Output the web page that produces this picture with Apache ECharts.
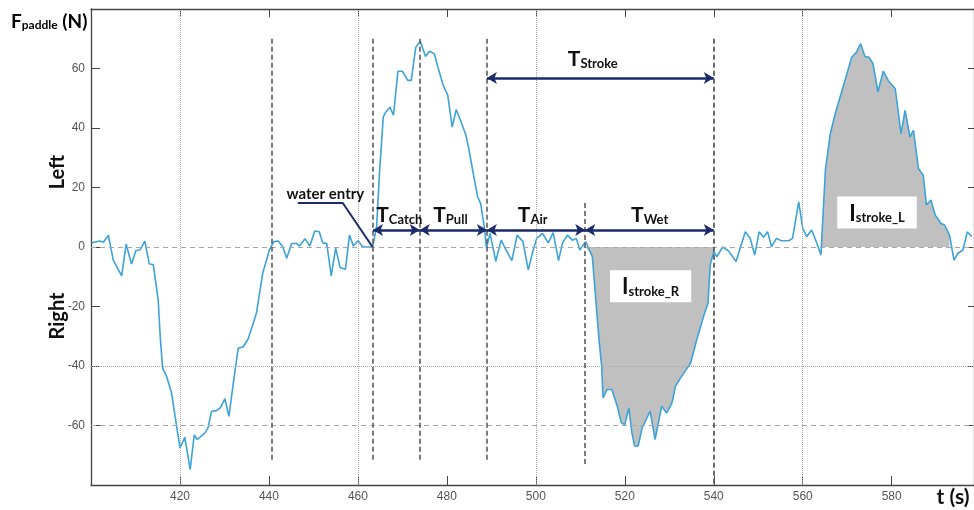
<!DOCTYPE html>
<html>
<head>
<meta charset="utf-8">
<script src="https://cdn.jsdelivr.net/npm/echarts@6/dist/echarts.min.js"></script>
<style>html,body{margin:0;padding:0;background:#fff}#c{width:974px;height:510px}</style>
</head>
<body>
<div id="c"></div>
<script>
// ---- data ----
const time = [400.2,402.0,402.8,403.9,405.0,406.9,407.9,409.1,410.1,411.0,412.1,413.1,414.0,415.1,415.6,416.1,417.0,418.1,420.0,421.1,422.3,423.2,423.9,425.6,426.3,427.1,428.2,429.1,430.1,431.0,432.1,433.1,434.2,435.3,437.2,438.6,440.1,441.1,442.1,443.1,444.0,445.1,446.2,446.9,448.1,449.2,450.3,451.3,452.1,453.0,454.0,455.0,456.0,457.2,458.1,459.0,460.0,461.1,462.2,463.3,464.2,464.9,465.7,466.3,467.2,468.0,469.0,470.0,471.2,472.0,473.0,474.0,475.2,476.1,477.2,478.2,479.2,480.2,481.2,482.1,483.2,484.3,485.0,485.8,486.9,487.6,488.4,488.9,489.7,491.0,492.2,493.3,494.6,495.8,497.1,498.3,499.3,500.2,501.5,502.8,503.9,505.1,506.0,507.1,508.2,509.1,509.9,511.2,512.7,514.2,514.8,515.1,516.0,517.1,518.3,519.2,520.0,520.9,521.6,522.2,523.0,523.9,525.0,525.7,526.8,528.3,529.4,530.6,531.4,532.3,533.3,534.8,536.2,537.7,538.7,539.2,540.0,540.7,542.0,543.3,545.0,547.1,548.2,549.2,550.2,551.2,552.1,553.0,554.1,555.2,556.8,557.7,559.1,560.0,560.9,562.0,563.2,564.1,564.3,565.1,566.2,567.3,568.4,569.5,571.0,572.1,573.0,574.0,574.9,575.8,576.9,578.1,579.2,580.8,582.1,583.0,584.1,584.9,586.0,587.1,587.8,588.8,589.8,591.1,591.9,593.0,594.0,594.9,596.0,597.0,598.0];
const force = [1.4,2,1.6,4,-4.4,-9.7,1,-5.7,-1.2,-1,2,-5.7,-5.9,-17.8,-31,-40.7,-43.5,-49,-67.5,-64,-74.8,-63.2,-64.7,-62.5,-60.8,-55.2,-55,-54,-51,-56.9,-44.6,-34,-33.6,-31,-22.2,-8.8,-1,1.8,2,0.1,-3.8,1.2,1.2,0.3,2.8,0.3,5.4,5.1,1.4,1.2,-9.7,-0.4,-6.9,-7.5,4,0.3,2.1,0.1,0,0,6.8,26,43.7,45.4,47,44.3,59.1,59.1,56,56,67.1,69.2,64,65.8,64.9,59.3,54.3,51,40.3,46.2,42,37.5,32.5,25.8,16.9,14.6,6.8,-0.4,4.6,-4.8,2.3,-1,-4.6,4,1.8,-7.7,-1.6,2.9,4.6,1.4,4.8,-4.6,1.4,4,2.3,2.9,-1,1.8,-3.2,-31.2,-40.1,-50.7,-47.9,-47.9,-53.5,-59.1,-59.7,-54.1,-62.5,-66.9,-66.9,-60.8,-57.4,-55.2,-64.7,-53.5,-55.8,-52.4,-46.8,-44.6,-42.3,-39,-31,-23.4,-18.9,-6,-1.6,-3.2,0,-1.3,-4.9,5.1,2.9,-2.7,5.1,3.3,5.1,0.1,2.9,2.1,2.1,2.9,15.2,6.3,3.5,5.7,1.2,-2.7,3.5,26,38.1,44.8,50.4,56,63.8,65.5,68.3,64,63.8,61.6,52.1,59.1,56,53.2,38.1,45.9,37,39.2,26.4,24.1,14.1,15.8,10.7,7.9,7.4,4,-4.4,-2.1,-1,5.1,3.5];
const xTickLabels = [420,440,460,480,500,520,540,560,580];
const yTickLabels = [-60,-40,-20,0,20,40,60];
// phase boundaries (s)
const phaseTimes = [440.6, 463.4, 473.9, 489.0, 511.1, 540.0];
const strokeRInterval = [511.1, 540.0];
const strokeLInterval = [564.3, 593.0];

// ---- chart ----
const pts = time.map((t, i) => [t, force[i]]);
const fillR = pts.filter(p => p[0] >= strokeRInterval[0] && p[0] <= strokeRInterval[1]).map(p => [p[0], Math.min(0, p[1])]);
const fillL = pts.filter(p => p[0] >= strokeLInterval[0] && p[0] <= strokeLInterval[1]).map(p => [p[0], Math.max(0, p[1])]);

const NAVY = '#1b2a6b';
const FONT = 'Lato';
const gridStyle = (type) => ({ color: '#a8a8a8', width: 1, type: type });
const vDash = (x, y1, y2, w) => [
  { coord: [x, y1], symbol: 'none', lineStyle: { color: '#5c5c5c', width: w || 1.6, type: [5, 3] } },
  { coord: [x, y2], symbol: 'none' }
];
const arrow = (x1, x2, y) => [
  { coord: [x1, y], symbol: 'arrow', lineStyle: { color: NAVY, width: 2.5, type: 'solid' } },
  { coord: [x2, y], symbol: 'arrow' }
];

const richT = {
  t: { fontFamily: FONT, fontWeight: 'bold', fontSize: 21, color: '#111', lineHeight: 24, verticalAlign: 'bottom' },
  s: { fontFamily: FONT, fontWeight: 'bold', fontSize: 13, color: '#111', lineHeight: 16, verticalAlign: 'bottom' },
  w: { fontFamily: FONT, fontWeight: 'bold', fontSize: 15, color: '#111' },
  i: { fontFamily: FONT, fontWeight: 'bold', fontSize: 22, color: '#111', lineHeight: 24, verticalAlign: 'bottom' },
  j: { fontFamily: FONT, fontWeight: 'bold', fontSize: 13, color: '#111', lineHeight: 16, verticalAlign: 'bottom' }
};
const annotations = [
  { value: [469.3, 11.1], text: '{t|T}{s|Catch}' },
  { value: [480.8, 11.1], text: '{t|T}{s|Pull}' },
  { value: [499.3, 11.1], text: '{t|T}{s|Air}' },
  { value: [525.6, 11.1], text: '{t|T}{s|Wet}' },
  { value: [512.8, 63.5], text: '{t|T}{s|Stroke}' },
  { value: [452.7, 17.9], text: '{w|water entry}' },
  { value: [525.8, -13.2], text: '{i|I}{j|stroke_R}', box: true },
  { value: [576.7, 11.6], text: '{i|I}{j|stroke_L}', box: true }
];

const axisLineStyle = { show: true, onZero: false, lineStyle: { color: '#444', width: 1.3 } };

const chart = echarts.init(document.getElementById('c'));
chart.setOption({
  animation: false,
  backgroundColor: '#fff',
  grid: { left: 91, top: 9, width: 885, height: 476 },
  xAxis: [
    {
      type: 'value', min: 400, max: 598.5, interval: 20, position: 'bottom',
      axisLine: axisLineStyle,
      axisTick: { inside: true, length: 9, lineStyle: { color: '#444' } },
      axisLabel: { color: '#555', fontSize: 12, fontFamily: 'Liberation Sans', margin: 6, showMinLabel: false, showMaxLabel: false,
        formatter: v => xTickLabels.includes(v) ? String(v) : '' },
      splitLine: { show: false }
    },
    {
      type: 'value', min: 400, max: 598.5, interval: 20, position: 'top',
      axisLine: axisLineStyle,
      axisTick: { inside: true, length: 8, lineStyle: { color: '#444' } },
      axisLabel: { show: false }, splitLine: { show: false }
    }
  ],
  yAxis: [
    {
      type: 'value', min: -80, max: 80, interval: 20, position: 'left',
      axisLine: axisLineStyle,
      axisTick: { show: true, inside: true, length: 9, lineStyle: { color: '#444' } },
      axisLabel: { color: '#555', fontSize: 12, fontFamily: 'Liberation Sans', margin: 6,
        formatter: v => yTickLabels.includes(v) ? String(v) : '' },
      splitLine: { show: false }
    },
    {
      type: 'value', min: -80, max: 80, interval: 20, position: 'right',
      axisLine: axisLineStyle,
      axisTick: { show: true, inside: true, length: 6, lineStyle: { color: '#444' } },
      axisLabel: { show: false }, splitLine: { show: false }
    }
  ],
  graphic: [
    { type: 'text', left: 11, top: 12, style: { text: '{a|F}{b|paddle}{a| (N)}', rich: {
      a: { fontFamily: FONT, fontWeight: 'bold', fontSize: 19, color: '#111', lineHeight: 22, verticalAlign: 'bottom' },
      b: { fontFamily: FONT, fontWeight: 'bold', fontSize: 12, color: '#111', lineHeight: 16, verticalAlign: 'bottom' } } } },
    { type: 'text', x: 58, y: 172, rotation: Math.PI / 2, style: { text: 'Left', fontFamily: FONT, fontWeight: 'bold', fontSize: 20, fill: '#111', align: 'center', verticalAlign: 'middle' } },
    { type: 'text', x: 58, y: 316, rotation: Math.PI / 2, style: { text: 'Right', fontFamily: FONT, fontWeight: 'bold', fontSize: 20, fill: '#111', align: 'center', verticalAlign: 'middle' } },
    { type: 'text', x: 953, y: 497, style: { text: 't (s)', fontFamily: FONT, fontWeight: 'bold', fontSize: 21, fill: '#111', align: 'center', verticalAlign: 'middle' } }
  ],
  series: [
    { type: 'line', data: fillR, showSymbol: false, silent: true, z: 1, lineStyle: { width: 0 }, areaStyle: { color: '#c0c0c0', opacity: 1 } },
    { type: 'line', data: fillL, showSymbol: false, silent: true, z: 1, lineStyle: { width: 0 }, areaStyle: { color: '#c0c0c0', opacity: 1 } },
    {
      type: 'line', data: pts, showSymbol: false, silent: true, z: 3,
      lineStyle: { color: '#3ca3d9', width: 1.6 },
      markLine: {
        silent: true, symbol: 'none', label: { show: false },
        data: [
          { xAxis: 420, lineStyle: gridStyle('dotted') },
          { xAxis: 460, lineStyle: gridStyle('dotted') },
          { xAxis: 500, lineStyle: gridStyle('dotted') },
          { xAxis: 560, lineStyle: gridStyle('dotted') },
          { yAxis: 0, lineStyle: gridStyle([5, 4]) },
          { yAxis: -40, lineStyle: gridStyle('dotted') },
          { yAxis: -60, lineStyle: gridStyle([5, 4]) }
        ]
      }
    },
    {
      type: 'line', data: pts, showSymbol: false, silent: true, z: 4,
      lineStyle: { width: 0, opacity: 0 },
      markLine: {
        silent: true, label: { show: false }, symbolSize: [9, 10],
        data: [
          vDash(phaseTimes[0], 70, -72),
          vDash(phaseTimes[1], 70, -72),
          vDash(phaseTimes[2], 70, -72),
          vDash(phaseTimes[3], 70, -72),
          vDash(phaseTimes[4], 14.8, -73),
          vDash(phaseTimes[5], 70, -80, 1.8),
          arrow(phaseTimes[1], phaseTimes[2], 5.7),
          arrow(phaseTimes[2], phaseTimes[3], 5.7),
          arrow(phaseTimes[3], phaseTimes[4], 5.7),
          arrow(phaseTimes[4], phaseTimes[5], 5.7),
          arrow(phaseTimes[3], phaseTimes[5], 56.8)
        ]
      }
    },
    {
      type: 'line', data: [[446.5, 14.8], [456.6, 14.8], [463.3, 0]], showSymbol: false, silent: true, z: 5,
      lineStyle: { color: NAVY, width: 2 }
    },
    {
      type: 'scatter', silent: true, z: 6, symbolSize: 1, itemStyle: { color: 'rgba(0,0,0,0)' },
      data: annotations.map(a => ({
        value: a.value,
        label: {
          show: true, position: 'inside', formatter: a.text, rich: richT, opacity: 1,
          backgroundColor: a.box ? '#ffffff' : 'transparent',
          padding: a.box ? [4, 12, 4, 12] : 0
        }
      }))
    }
  ]
});
</script>
</body>
</html>
